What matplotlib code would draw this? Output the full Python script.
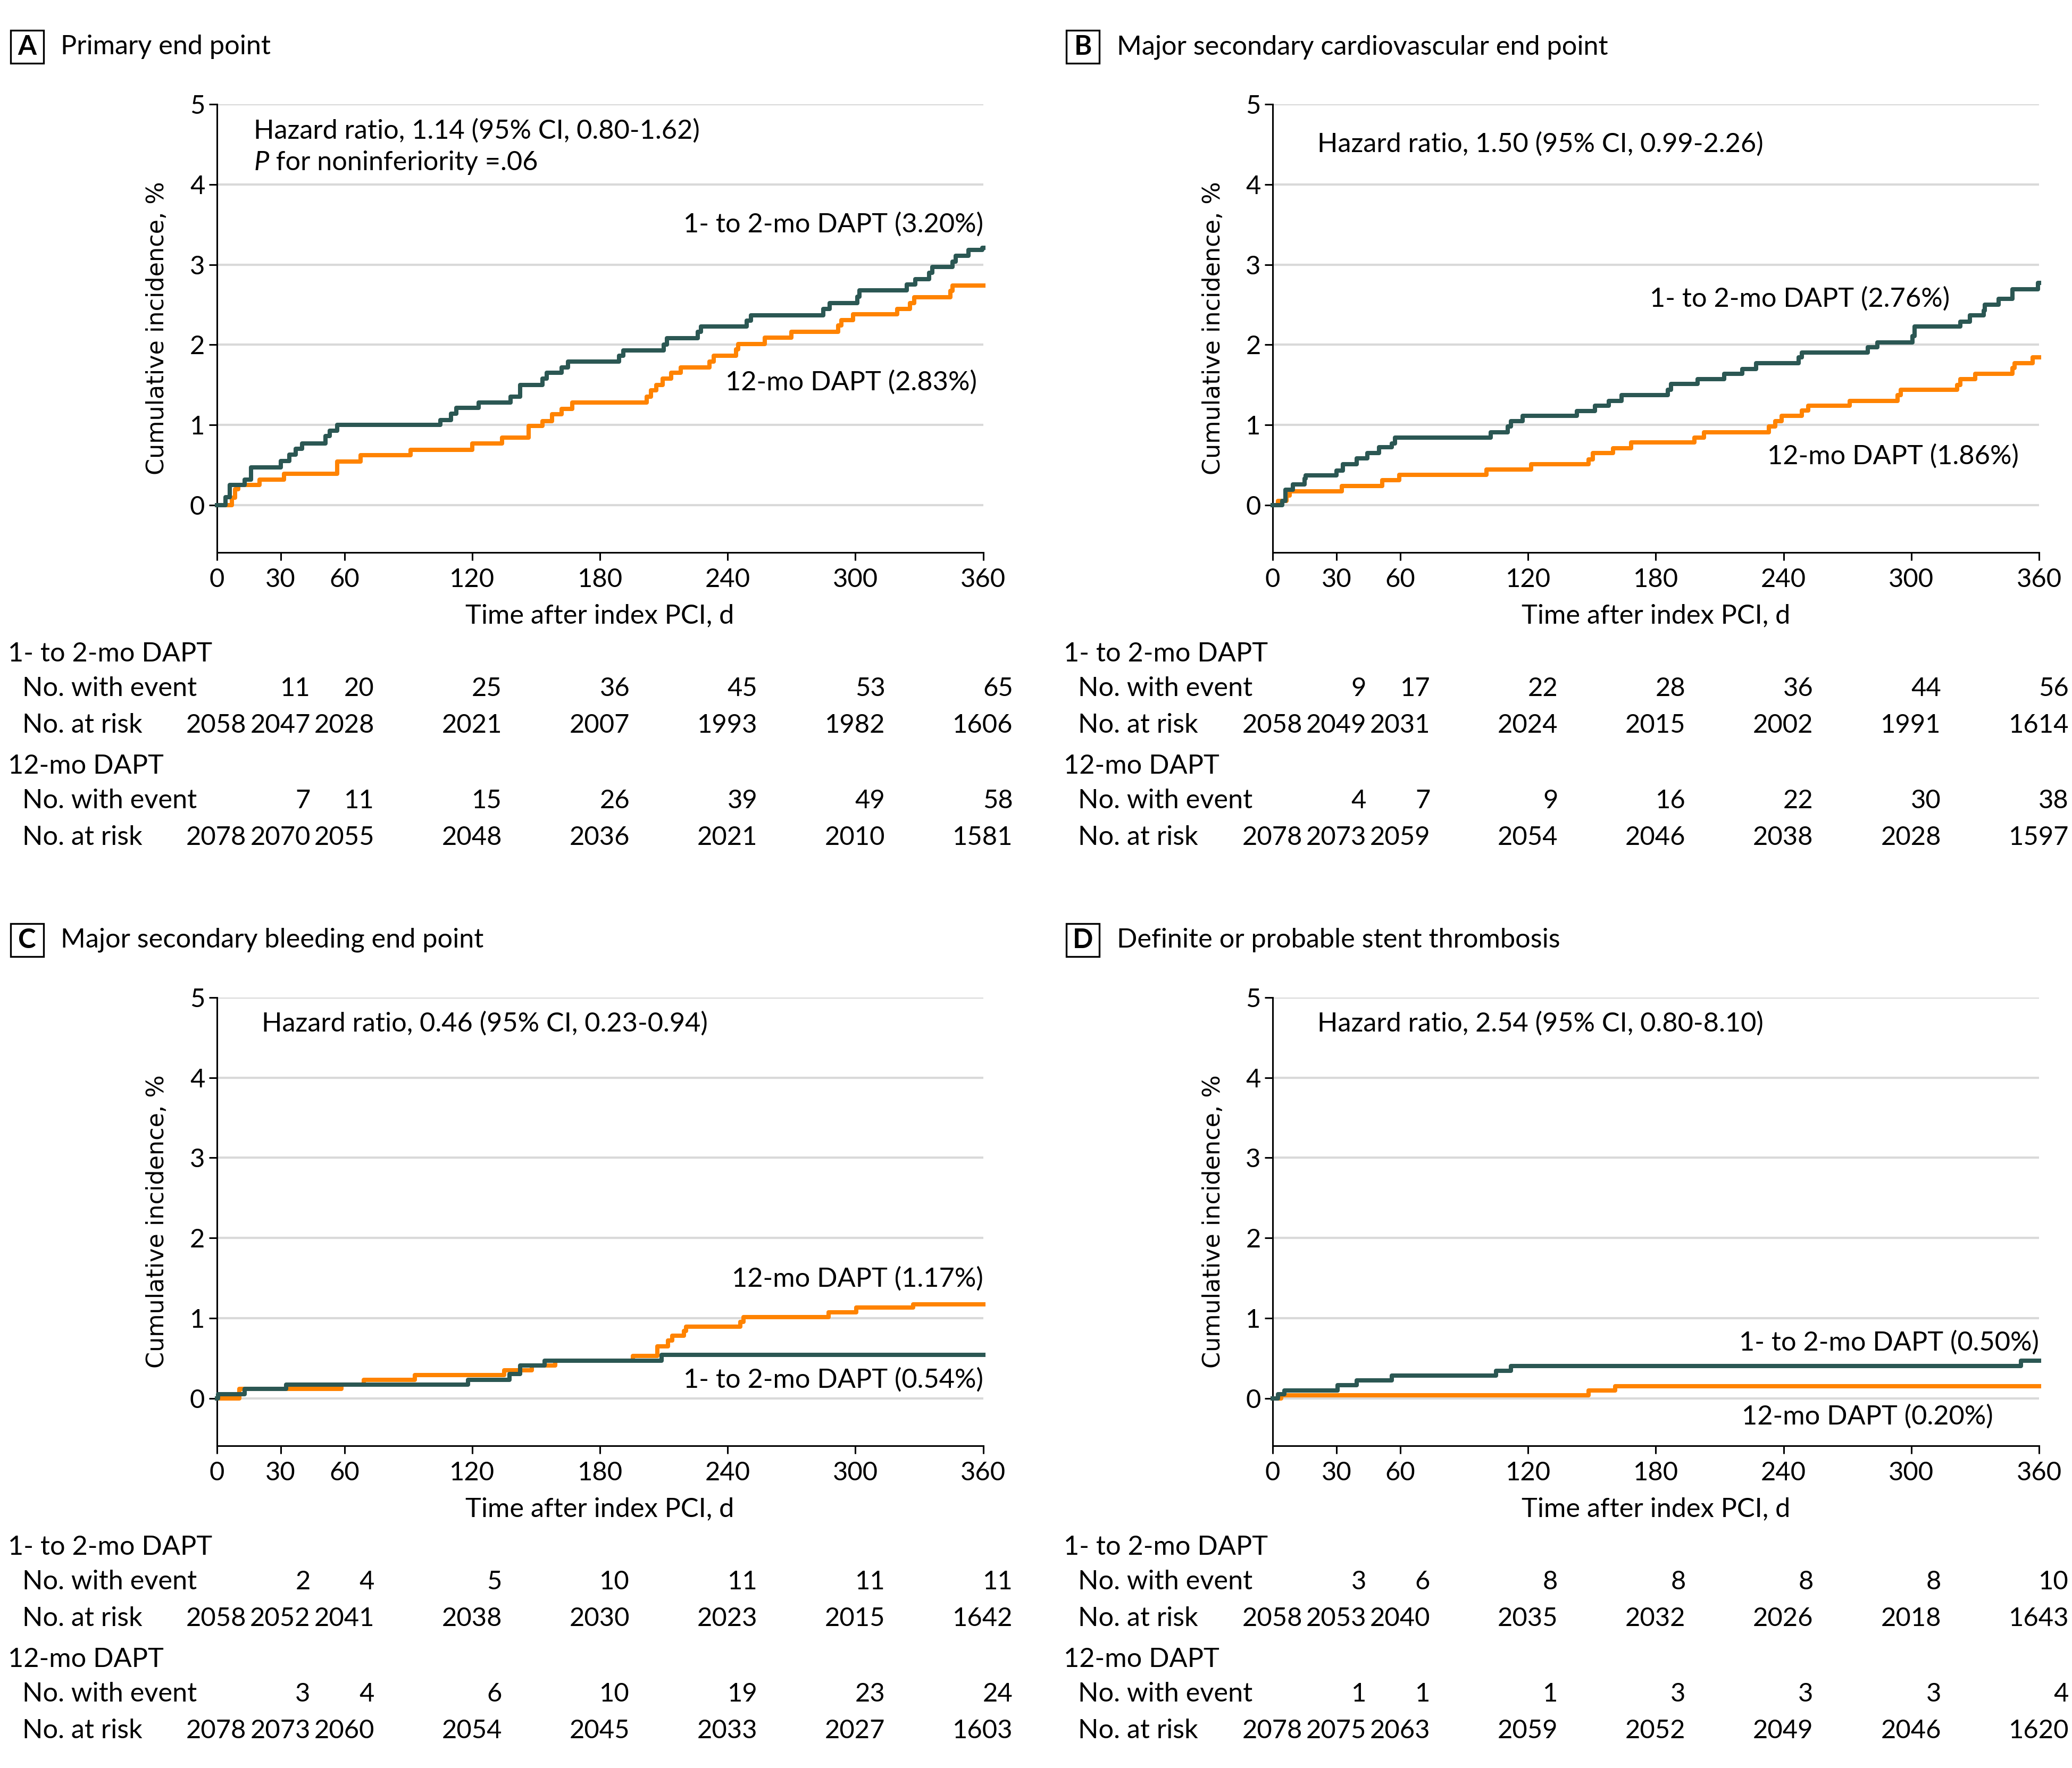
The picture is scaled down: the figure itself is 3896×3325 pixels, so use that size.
import matplotlib
matplotlib.use('Agg')
import matplotlib.pyplot as plt
from matplotlib import transforms
from matplotlib.patches import Rectangle

plt.rcParams['font.family'] = ['Lato', 'DejaVu Sans']

# ---- step curves (days, cumulative incidence %) ----
a_short_t = [0, 4, 6, 13, 16, 30, 34, 37, 40, 51, 53, 56.5, 105, 110, 112.5, 123, 138, 142.5, 153, 155, 162, 165,
             189, 191, 210, 211.5, 226, 227.5, 249, 251, 285, 288, 301, 302, 324, 328, 334.5, 336, 345.5, 347, 353,
             359.5, 360]
a_short_y = [0, 0.10, 0.25, 0.32, 0.47, 0.55, 0.63, 0.70, 0.77, 0.86, 0.93, 1.00, 1.06, 1.14, 1.21, 1.28, 1.35, 1.50,
             1.58, 1.65, 1.72, 1.79, 1.86, 1.93, 2.00, 2.08, 2.16, 2.23, 2.30, 2.37, 2.45, 2.52, 2.60, 2.68, 2.75, 2.82,
             2.90, 2.97, 3.04, 3.11, 3.18, 3.21, 3.21]
a_long_t = [0, 7, 8.5, 10, 20, 31.5, 56.5, 67.5, 91, 120, 134, 146.5, 153, 157.5, 162, 167, 202, 204, 206.5, 209.5,
            213.5, 218, 231.5, 233.5, 244, 245, 257.5, 270, 292, 293.5, 299, 319.5, 325.5, 327.5, 344.5, 345.5, 360]
a_long_y = [0, 0.09, 0.20, 0.25, 0.32, 0.39, 0.54, 0.62, 0.69, 0.77, 0.84, 0.99, 1.05, 1.13, 1.20, 1.28, 1.35, 1.43,
            1.50, 1.58, 1.65, 1.72, 1.79, 1.86, 1.94, 2.01, 2.09, 2.16, 2.24, 2.31, 2.38, 2.45, 2.52, 2.59, 2.67, 2.74,
            2.74]

b_short_t = [0, 4.5, 6, 9.5, 15, 15.5, 30, 33, 39.5, 44.5, 50, 56, 57.5, 102.5, 110.5, 112, 117.5, 143, 151.5, 158,
             164, 185.5, 187, 199.5, 212, 220.5, 227, 247, 248.5, 279.5, 284, 300.5, 301.5, 323, 327.5, 334, 334.5,
             341, 347.5, 359.5, 360]
b_short_y = [0, 0.05, 0.19, 0.26, 0.33, 0.37, 0.43, 0.51, 0.58, 0.65, 0.72, 0.77, 0.84, 0.91, 0.98, 1.05, 1.11, 1.17,
             1.24, 1.30, 1.37, 1.44, 1.51, 1.57, 1.64, 1.70, 1.77, 1.84, 1.90, 1.97, 2.03, 2.11, 2.23, 2.29, 2.37, 2.43,
             2.50, 2.57, 2.69, 2.77, 2.77]
b_long_t = [0, 2.5, 6.5, 8, 32.5, 51.5, 59.5, 100.5, 121.5, 148.5, 150.5, 160, 168.5, 198, 202.5, 233, 236, 239,
            248.5, 251.5, 271, 293.5, 295, 321.5, 323, 330, 347.5, 348.5, 357, 360]
b_long_y = [0, 0.05, 0.12, 0.17, 0.24, 0.31, 0.38, 0.44, 0.51, 0.57, 0.65, 0.71, 0.78, 0.84, 0.91, 0.98, 1.05, 1.11,
            1.18, 1.24, 1.30, 1.37, 1.44, 1.50, 1.57, 1.64, 1.71, 1.77, 1.84, 1.84]

c_short_t = [0, 0.5, 13, 32.5, 118, 137.5, 142.5, 154, 209, 360]
c_short_y = [0, 0.05, 0.12, 0.17, 0.23, 0.30, 0.41, 0.47, 0.54, 0.54]
c_long_t = [0, 10.5, 58.5, 69, 93, 135, 148, 159, 195.5, 207, 212, 214, 219.5, 220.5, 246, 247.5, 287.5, 300.5,
            327, 360]
c_long_y = [0, 0.12, 0.17, 0.23, 0.29, 0.35, 0.41, 0.47, 0.53, 0.65, 0.72, 0.78, 0.84, 0.89, 0.95, 1.01, 1.07, 1.13,
            1.17, 1.17]

d_short_t = [0, 2.5, 5.5, 30.5, 39.5, 56, 105, 112, 351.5, 360]
d_short_y = [0, 0.05, 0.10, 0.16, 0.22, 0.28, 0.34, 0.40, 0.47, 0.47]
d_long_t = [0, 4, 148.5, 161, 360]
d_long_y = [0, 0.04, 0.10, 0.15, 0.15]

# ---- number at risk tables ----
risk_days = [0, 30, 60, 120, 180, 240, 300, 360]
event_days = [30, 60, 120, 180, 240, 300, 360]

a_short_events = [11, 20, 25, 36, 45, 53, 65]
a_short_risk = [2058, 2047, 2028, 2021, 2007, 1993, 1982, 1606]
a_long_events = [7, 11, 15, 26, 39, 49, 58]
a_long_risk = [2078, 2070, 2055, 2048, 2036, 2021, 2010, 1581]

b_short_events = [9, 17, 22, 28, 36, 44, 56]
b_short_risk = [2058, 2049, 2031, 2024, 2015, 2002, 1991, 1614]
b_long_events = [4, 7, 9, 16, 22, 30, 38]
b_long_risk = [2078, 2073, 2059, 2054, 2046, 2038, 2028, 1597]

c_short_events = [2, 4, 5, 10, 11, 11, 11]
c_short_risk = [2058, 2052, 2041, 2038, 2030, 2023, 2015, 1642]
c_long_events = [3, 4, 6, 10, 19, 23, 24]
c_long_risk = [2078, 2073, 2060, 2054, 2045, 2033, 2027, 1603]

d_short_events = [3, 6, 8, 8, 8, 8, 10]
d_short_risk = [2058, 2053, 2040, 2035, 2032, 2026, 2018, 1643]
d_long_events = [1, 1, 1, 3, 3, 3, 4]
d_long_risk = [2078, 2075, 2063, 2059, 2052, 2049, 2046, 1620]

letters = ['A', 'B', 'C', 'D']
titles = ['Primary end point', 'Major secondary cardiovascular end point',
          'Major secondary bleeding end point', 'Definite or probable stent thrombosis']
hazard_texts = ['Hazard ratio, 1.14 (95% CI, 0.80-1.62)', 'Hazard ratio, 1.50 (95% CI, 0.99-2.26)',
                'Hazard ratio, 0.46 (95% CI, 0.23-0.94)', 'Hazard ratio, 2.54 (95% CI, 0.80-8.10)']
short_labels = ['1- to 2-mo DAPT (3.20%)', '1- to 2-mo DAPT (2.76%)', '1- to 2-mo DAPT (0.54%)',
                '1- to 2-mo DAPT (0.50%)']
long_labels = ['12-mo DAPT (2.83%)', '12-mo DAPT (1.86%)', '12-mo DAPT (1.17%)', '12-mo DAPT (0.20%)']

GREEN = '#2b5753'
ORANGE = '#ff8300'
GRID = '#d9d9d9'
FS = 18.2     # annotation / title text
NFS = 17.6    # numbers

panels = [
    dict(pos=[0.1046, 0.6876], s=(a_short_t, a_short_y), l=(a_long_t, a_long_y),
         se=a_short_events, sr=a_short_risk, le=a_long_events, lr=a_long_risk,
         hr_xy=(17.4, 4.67), s_xy=(360, 3.50), l_xy=(357, 1.53)),
    dict(pos=[0.6142, 0.6876], s=(b_short_t, b_short_y), l=(b_long_t, b_long_y),
         se=b_short_events, sr=b_short_risk, le=b_long_events, lr=b_long_risk,
         hr_xy=(21.1, 4.50), s_xy=(318, 2.57), l_xy=(350.5, 0.61)),
    dict(pos=[0.1046, 0.1824], s=(c_short_t, c_short_y), l=(c_long_t, c_long_y),
         se=c_short_events, sr=c_short_risk, le=c_long_events, lr=c_long_risk,
         hr_xy=(21.1, 4.67), s_xy=(360, 0.23), l_xy=(360, 1.49)),
    dict(pos=[0.6142, 0.1824], s=(d_short_t, d_short_y), l=(d_long_t, d_long_y),
         se=d_short_events, sr=d_short_risk, le=d_long_events, lr=d_long_risk,
         hr_xy=(21.1, 4.67), s_xy=(360, 0.69), l_xy=(338.5, -0.23)),
]

W, H = 0.3699, 0.2534

fig = plt.figure(figsize=(19.48, 16.625), dpi=200)

for i, p in enumerate(panels):
    x0, y0 = p['pos']
    ax = fig.add_axes([x0, y0, W, H])

    ax.step(p['l'][0], p['l'][1], where='post', color=ORANGE, lw=2.9, clip_on=False, zorder=3)
    ax.step(p['s'][0], p['s'][1], where='post', color=GREEN, lw=2.9, clip_on=False, zorder=4)

    ax.set_xlim(0, 360)
    ax.set_ylim(-0.59, 5)
    ax.set_xticks(risk_days)
    ax.set_yticks(range(6))
    ax.yaxis.grid(True, color=GRID, lw=1.5)
    ax.set_axisbelow(True)
    for side in ['top', 'right']:
        ax.spines[side].set_visible(False)
    for side in ['left', 'bottom']:
        ax.spines[side].set_linewidth(1.1)
    ax.tick_params(axis='both', direction='out', length=5.5, width=1.1, labelsize=NFS)
    ax.tick_params(axis='x', pad=5)
    ax.tick_params(axis='y', pad=2.5)

    ax.set_xlabel('Time after index PCI, d', fontsize=FS, va='center')
    ax.xaxis.set_label_coords(0.5, -0.1416)
    ax.set_ylabel('Cumulative incidence, %', fontsize=16, family='DejaVu Sans', va='center')
    ax.yaxis.set_label_coords(-0.0776, 0.5)

    # annotations
    hx, hy = p['hr_xy']
    ax.text(hx, hy, hazard_texts[i], fontsize=FS, ha='left', va='center')
    if i == 0:
        pt = ax.text(hx, 4.27, 'P', fontsize=FS, style='italic', ha='left', va='center')
        ax.annotate(' for noninferiority =.06', xy=(1, 0), xycoords=pt, fontsize=FS,
                    ha='left', va='bottom')
    ax.text(*p['s_xy'], short_labels[i], fontsize=FS, ha='right', va='center')
    ax.text(*p['l_xy'], long_labels[i], fontsize=FS, ha='right', va='center')

    # panel title
    fig.add_artist(Rectangle((x0 - 0.0995, y0 + H + 0.0231), 0.01594, 0.01868, transform=fig.transFigure,
                             fill=False, edgecolor='black', lw=1.2))
    fig.text(x0 - 0.0915, y0 + H + 0.0324, letters[i], fontsize=FS, fontweight='bold', ha='center', va='center')
    fig.text(x0 - 0.0753, y0 + H + 0.0324, titles[i], fontsize=FS, ha='left', va='center')

    # risk table
    offs = [0.0575, 0.0770, 0.0979, 0.1211, 0.1405, 0.1614]
    tr = transforms.blended_transform_factory(ax.transData, fig.transFigure)
    fig.text(x0 - 0.1008, y0 - offs[0], '1- to 2-mo DAPT', fontsize=FS, ha='left', va='center')
    fig.text(x0 - 0.0938, y0 - offs[1], 'No. with event', fontsize=FS, ha='left', va='center')
    fig.text(x0 - 0.0938, y0 - offs[2], 'No. at risk', fontsize=FS, ha='left', va='center')
    fig.text(x0 - 0.1008, y0 - offs[3], '12-mo DAPT', fontsize=FS, ha='left', va='center')
    fig.text(x0 - 0.0938, y0 - offs[4], 'No. with event', fontsize=FS, ha='left', va='center')
    fig.text(x0 - 0.0938, y0 - offs[5], 'No. at risk', fontsize=FS, ha='left', va='center')
    for d, v in zip(event_days, p['se']):
        ax.text(d + 14, y0 - offs[1], str(v), transform=tr, fontsize=NFS, ha='right', va='center', clip_on=False)
    for d, v in zip(risk_days, p['sr']):
        ax.text(d + 14, y0 - offs[2], str(v), transform=tr, fontsize=NFS, ha='right', va='center', clip_on=False)
    for d, v in zip(event_days, p['le']):
        ax.text(d + 14, y0 - offs[4], str(v), transform=tr, fontsize=NFS, ha='right', va='center', clip_on=False)
    for d, v in zip(risk_days, p['lr']):
        ax.text(d + 14, y0 - offs[5], str(v), transform=tr, fontsize=NFS, ha='right', va='center', clip_on=False)

fig.savefig('out.png', dpi=200, facecolor='white')
